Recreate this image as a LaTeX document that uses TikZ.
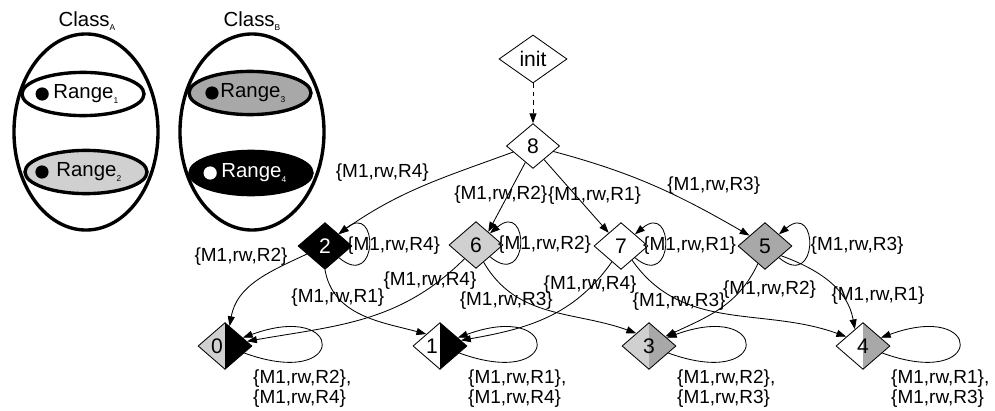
\documentclass[tikz,border=0pt]{standalone}
\usepackage{fontspec}
\setmainfont{Liberation Sans}
\usetikzlibrary{shapes.geometric,arrows.meta}

\definecolor{rnglight}{HTML}{D0D0D0}
\definecolor{rngdark}{HTML}{A8A8A8}

\newcommand{\lblsize}{\fontsize{13.5}{14.5}\selectfont}
\newcommand{\setsize}{\fontsize{14.5}{16}\selectfont}
\newcommand{\statesize}{\fontsize{15}{18}\selectfont}
\newcommand{\lowidx}[1]{\raisebox{-3pt}{\fontsize{6}{6}\selectfont #1}}
\newcommand{\acc}[1]{\{M1,rw,#1\}}% access tuple

\tikzset{
  st/.style = {diamond, draw=black, line width=0.6pt, inner sep=0pt,
    minimum width=1.35cm, minimum height=1.17cm, font=\statesize},
  st_w/.style = {st, fill=white},% state, no range
  st_k/.style = {st, fill=black, text=white},% state, Range4
  st_l/.style = {st, fill=rnglight},% state, Range2
  st_d/.style = {st, fill=rngdark},% state, Range3
  st_s/.style 2 args = {st, path picture={
      \fill[#1] (path picture bounding box.south west) rectangle
        (path picture bounding box.north);
      \fill[#2] (path picture bounding box.south) rectangle
        (path picture bounding box.north east);}},% state, two ranges
  lbl/.style = {font=\lblsize, inner sep=1pt},
  cls/.style = {ellipse, draw=black, line width=2.4pt,
    minimum width=3.6cm, minimum height=4.9cm},
  rng/.style = {ellipse, draw=black, line width=2.4pt,
    minimum width=3.05cm, minimum height=1.08cm, font=\setsize},
  dot/.style = {circle, fill=black, inner sep=0pt, minimum size=0.33cm},
  selfloop/.style = {out=-40, in=40, min distance=1.3cm},
  longloop/.style = {out=-20, in=20, min distance=2.75cm}
}

\begin{document}
\begin{tikzpicture}[x=0.025cm, y=0.025cm, line width=0.6pt,
  ->, >={Triangle[length=7pt,width=5pt]}]
\useasboundingbox (0,0) rectangle (995,410);

% the two classes and their ranges
\node [cls] (clsA) at (86,278) {};
\node [cls] (clsB) at (252,278) {};
\node [lbl, font=\setsize] (tA) at (87,389) {Class\lowidx{A}};
\node [lbl, font=\setsize] (tB) at (252,389) {Class\lowidx{B}};
\node [rng, fill=white] (r1) at (83,316) {\hspace{4pt}Range\lowidx{1}};
\node [rng, fill=rnglight] (r2) at (86,238) {\hspace{4pt}Range\lowidx{2}};
\node [rng, fill=rngdark] (r3) at (250,317) {\hspace{4pt}Range\lowidx{3}};
\node [rng, fill=black, text=white] (r4) at (251,237) {\hspace{4pt}Range\lowidx{4}};
\node [dot] (d1) at ([xshift=-1.02cm]r1.center) {};
\node [dot] (d2) at ([xshift=-1.1cm]r2.center) {};
\node [dot] (d3) at ([xshift=-0.95cm]r3.center) {};
\node [dot, fill=white] (d4) at ([xshift=-1.02cm]r4.center) {};

% states
\node [st_w, minimum width=1.7cm, minimum height=1.2cm] (sinit) at (533,351) {init};
\node [st_w, minimum width=1.33cm, minimum height=1.12cm] (s8) at (533,264) {8};
\node [st_k] (s2) at (325,164) {2};
\node [st_l] (s6) at (476,165) {6};
\node [st_w] (s7) at (621,164) {7};
\node [st_d] (s5) at (765,164) {5};
\node [st_s={rnglight}{black}] (s0) at (225,64) {\llap{0\hspace{1.5pt}}};
\node [st_s={white}{black}] (s1) at (440,64) {\llap{1\hspace{1.5pt}}};
\node [st_s={rnglight}{rngdark}] (s3) at (649,64) {3};
\node [st_s={white}{rngdark}] (s4) at (863,64) {4};

% transitions from 8
\draw [dashed] (sinit) -- (s8);
\draw (s8.197) to[out=200,in=35] node[lbl, pos=0.45, anchor=south east] {\acc{R4}} (s2.42);
\draw (s8.-115) -- node[lbl, pos=0.47, xshift=-0.18cm] {\acc{R2}} (s6.47);
\draw (s8.-51) -- node[lbl, pos=0.49, xshift=0.47cm] {\acc{R1}} (s7.133);
\draw (s8.-15) to[out=-15,in=150] node[lbl, pos=0.5, anchor=south west, xshift=0.27cm, yshift=-0.25cm] {\acc{R3}} (s5.146);

% self loops, second row
\draw (s2.-40) to[selfloop] node[lbl, xshift=0.62cm] {\acc{R4}} (s2.40);
\draw (s6.-40) to[selfloop] node[lbl, xshift=0.62cm] {\acc{R2}} (s6.40);
\draw (s7.-40) to[selfloop] node[lbl, xshift=0.62cm] {\acc{R1}} (s7.40);
\draw (s5.-40) to[selfloop] node[lbl, right] {\acc{R3}} (s5.40);

% second row to third row
\draw (s2.204) to[out=205,in=80] node[lbl, pos=0.05, anchor=east, xshift=-0.3cm] {\acc{R2}} (s0.77);
\draw (s2.south) to[out=-80,in=165] node[lbl, pos=0.25] {\acc{R1}} (s1.139);
\draw (s6.230) to[out=225,in=10] node[lbl, pos=0.1, xshift=-0.38cm, yshift=-0.12cm] {\acc{R4}} (s0.12);
\draw (s6.-66) to[out=-60,in=160] node[lbl, pos=0.2, yshift=-0.28cm] {\acc{R3}} (s3.135);
\draw (s7.240) to[out=235,in=10] node[lbl, pos=0.1, xshift=-0.25cm, yshift=-0.2cm] {\acc{R4}} (s1.15);
\draw (s7.-52) to[out=-55,in=160] node[lbl, pos=0.2, xshift=0.33cm, yshift=-0.2cm] {\acc{R3}} (s4.151);
\draw (s5.248) to[out=245,in=25] node[lbl, pos=0.15, xshift=0.53cm, yshift=-0.22cm] {\acc{R2}} (s3.30);
\draw (s5.-31) to[out=-20,in=100] node[lbl, pos=0.5, right, yshift=-0.32cm] {\acc{R1}} (s4.116);

% self loops, third row
\draw (s0.-20) to[longloop] node[lbl, pos=0.25, below, align=left, yshift=-0.17cm] {\acc{R2},\\\acc{R4}} (s0.25);
\draw (s1.-20) to[longloop] node[lbl, pos=0.25, below, align=left, yshift=-0.17cm] {\acc{R1},\\\acc{R4}} (s1.25);
\draw (s3.-20) to[longloop] node[lbl, pos=0.25, below, align=left, yshift=-0.17cm] {\acc{R2},\\\acc{R3}} (s3.25);
\draw (s4.-20) to[longloop] node[lbl, pos=0.25, below, align=left, yshift=-0.17cm] {\acc{R1},\\\acc{R3}} (s4.25);
\end{tikzpicture}
\end{document}
